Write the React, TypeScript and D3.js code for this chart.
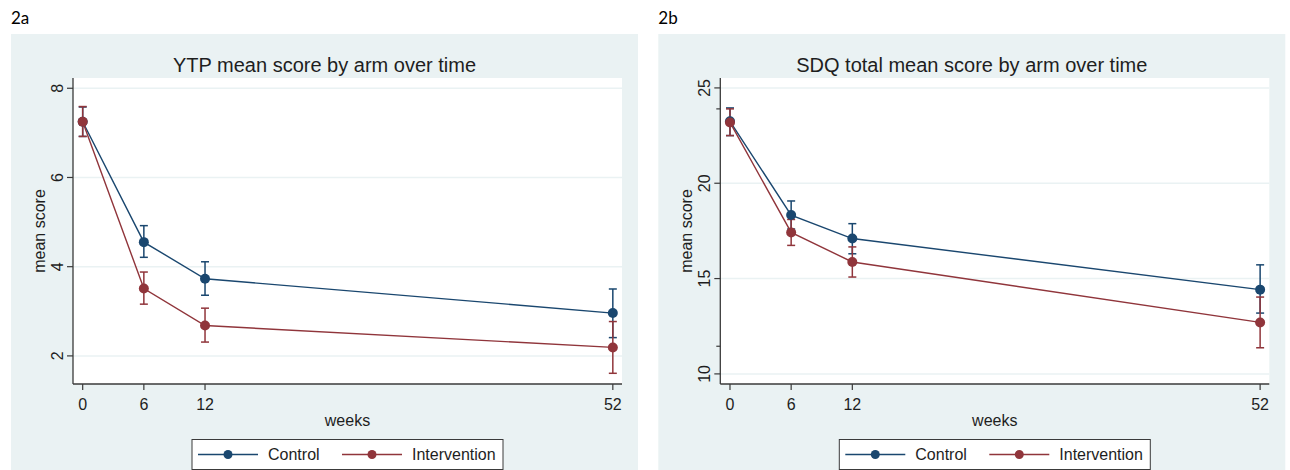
import React from "react";
import * as d3 from "d3";

const weeks = [0, 6, 12, 52];
const xTicks = [0, 6, 12, 52];

// Panel 2a: YTP
const ytpControlMean = [7.25, 4.55, 3.73, 2.96];
const ytpControlLo = [6.92, 4.21, 3.36, 2.41];
const ytpControlHi = [7.58, 4.92, 4.11, 3.5];
const ytpInterventionMean = [7.25, 3.51, 2.68, 2.19];
const ytpInterventionLo = [6.92, 3.16, 2.31, 1.61];
const ytpInterventionHi = [7.59, 3.88, 3.07, 2.77];
const ytpYTicks = [2, 4, 6, 8];
const ytpMinorTicks: number[] = [];

// Panel 2b: SDQ total
const sdqControlMean = [23.25, 18.33, 17.1, 14.42];
const sdqControlLo = [22.5, 17.6, 16.3, 13.19];
const sdqControlHi = [23.95, 19.07, 17.88, 15.72];
const sdqInterventionMean = [23.19, 17.42, 15.87, 12.7];
const sdqInterventionLo = [22.5, 16.74, 15.08, 11.37];
const sdqInterventionHi = [23.9, 18.1, 16.66, 14.03];
const sdqYTicks = [10, 15, 20, 25];
const sdqMinorTicks = [11.45, 23.9];

const seriesNames = ["Control", "Intervention"];
const NAVY = "#1a476f";
const MAROON = "#90353b";
const BG = "#eaf2f3";
const FONT = "'Liberation Sans', Arial, sans-serif";

type Series = { mean: number[]; lo: number[]; hi: number[]; color: string };

type PanelProps = {
  ox: number;
  label: string;
  title: string;
  yDomain: [number, number];
  yTicks: number[];
  minorTicks: number[];
  series: Series[];
};

function Panel({ ox, label, title, yDomain, yTicks, minorTicks, series }: PanelProps) {
  const bgX = ox + 11;
  const bgW = 627;
  const plotL = ox + 73;
  const plotR = ox + 622;
  const plotT = 78;
  const plotB = 384;
  const x = d3.scaleLinear().domain([-0.95, 52.9]).range([plotL, plotR]);
  const y = d3.scaleLinear().domain(yDomain).range([plotB, plotT]);
  const line = d3
    .line<number>()
    .x((_, i) => x(weeks[i]))
    .y((d) => y(d));
  const cap = 4;
  const legX = ox + 192;
  const midX = (plotL + plotR) / 2;
  const midY = (plotT + plotB) / 2;
  return (
    <g>
      <text x={bgX} y={24} fontFamily="Lato, 'Open Sans', sans-serif" fontSize={17} fill="#000">
        {label}
      </text>
      <rect x={bgX} y={34} width={bgW} height={440} fill={BG} />
      <text x={bgX + bgW / 2} y={72} textAnchor="middle" fontFamily={FONT} fontSize={20} fill="#1e1e1e">
        {title}
      </text>
      <rect x={plotL} y={plotT} width={plotR - plotL} height={plotB - plotT} fill="#fff" />
      {yTicks.map((t) => (
        <line key={"g" + t} x1={plotL} x2={plotR} y1={y(t)} y2={y(t)} stroke={BG} strokeWidth={1.5} />
      ))}
      {/* axes */}
      <line x1={plotL} x2={plotL} y1={plotT} y2={plotB} stroke="#3a3a3a" strokeWidth={1.3} />
      <line x1={plotL} x2={plotR} y1={plotB} y2={plotB} stroke="#3a3a3a" strokeWidth={1.3} />
      {yTicks.map((t) => (
        <g key={"yt" + t}>
          <line x1={plotL - 6} x2={plotL} y1={y(t)} y2={y(t)} stroke="#3a3a3a" strokeWidth={1.2} />
          <text
            transform={`translate(${plotL - 10},${y(t)}) rotate(-90)`}
            textAnchor="middle"
            fontFamily={FONT}
            fontSize={16}
            fill="#1e1e1e"
          >
            {t}
          </text>
        </g>
      ))}
      {minorTicks.map((t) => (
        <line key={"mt" + t} x1={plotL - 4} x2={plotL} y1={y(t)} y2={y(t)} stroke="#3a3a3a" strokeWidth={1.2} />
      ))}
      {xTicks.map((t) => (
        <g key={"xt" + t}>
          <line x1={x(t)} x2={x(t)} y1={plotB} y2={plotB + 6} stroke="#3a3a3a" strokeWidth={1.2} />
          <text x={x(t)} y={plotB + 26} textAnchor="middle" fontFamily={FONT} fontSize={16} fill="#1e1e1e">
            {t}
          </text>
        </g>
      ))}
      <text x={midX} y={426} textAnchor="middle" fontFamily={FONT} fontSize={16} fill="#1e1e1e">
        weeks
      </text>
      <text
        transform={`translate(${ox + 45},${midY}) rotate(-90)`}
        textAnchor="middle"
        fontFamily={FONT}
        fontSize={16}
        fill="#1e1e1e"
      >
        mean score
      </text>
      {/* CIs */}
      {series.map((s, si) => (
        <g key={"ci" + si} stroke={s.color} strokeWidth={1.5}>
          {weeks.map((w, i) => (
            <g key={i}>
              <line x1={x(w)} x2={x(w)} y1={y(s.lo[i])} y2={y(s.hi[i])} />
              <line x1={x(w) - cap} x2={x(w) + cap} y1={y(s.lo[i])} y2={y(s.lo[i])} />
              <line x1={x(w) - cap} x2={x(w) + cap} y1={y(s.hi[i])} y2={y(s.hi[i])} />
            </g>
          ))}
        </g>
      ))}
      {/* lines + markers */}
      {series.map((s, si) => (
        <g key={"ln" + si}>
          <path d={line(s.mean) || ""} fill="none" stroke={s.color} strokeWidth={1.4} />
          {weeks.map((w, i) => (
            <circle key={i} cx={x(w)} cy={y(s.mean[i])} r={5} fill={s.color} />
          ))}
        </g>
      ))}
      {/* legend */}
      <rect x={legX} y={439.5} width={311} height={30} fill="#fff" stroke="#3a3a3a" strokeWidth={1} />
      {series.map((s, si) => {
        const lx = legX + 6 + si * 144;
        return (
          <g key={"lg" + si}>
            <line x1={lx} x2={lx + 60} y1={454.5} y2={454.5} stroke={s.color} strokeWidth={1.4} />
            <circle cx={lx + 30} cy={454.5} r={4.5} fill={s.color} />
            <text x={lx + 70} y={460} fontFamily={FONT} fontSize={16} fill="#1e1e1e">
              {seriesNames[si]}
            </text>
          </g>
        );
      })}
    </g>
  );
}

export default function App() {
  const ytpSeries: Series[] = [
    { mean: ytpControlMean, lo: ytpControlLo, hi: ytpControlHi, color: NAVY },
    { mean: ytpInterventionMean, lo: ytpInterventionLo, hi: ytpInterventionHi, color: MAROON },
  ];
  const sdqSeries: Series[] = [
    { mean: sdqControlMean, lo: sdqControlLo, hi: sdqControlHi, color: NAVY },
    { mean: sdqInterventionMean, lo: sdqInterventionLo, hi: sdqInterventionHi, color: MAROON },
  ];
  return (
    <svg
      width={1290}
      height={470}
      style={{ position: "absolute", left: 0, top: 0, background: "#fff" }}
    >
      <Panel
        ox={0}
        label="2a"
        title="YTP mean score by arm over time"
        yDomain={[1.37, 8.23]}
        yTicks={ytpYTicks}
        minorTicks={ytpMinorTicks}
        series={ytpSeries}
      />
      <Panel
        ox={647.3}
        label="2b"
        title="SDQ total mean score by arm over time"
        yDomain={[9.47, 25.52]}
        yTicks={sdqYTicks}
        minorTicks={sdqMinorTicks}
        series={sdqSeries}
      />
    </svg>
  );
}
